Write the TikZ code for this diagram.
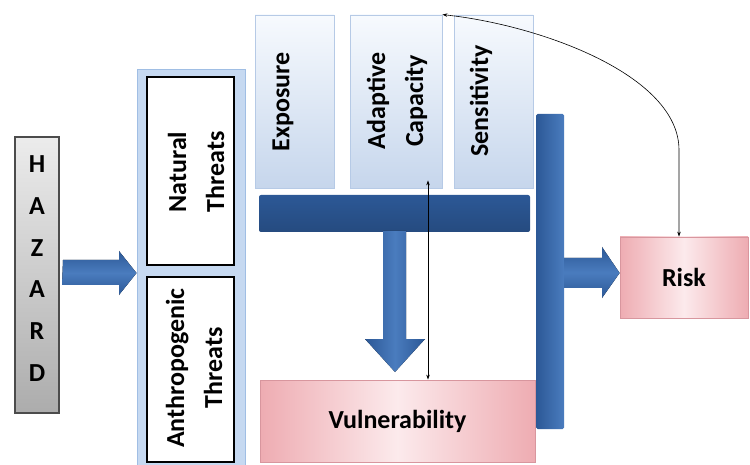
\documentclass[tikz,border=0pt]{standalone}
\usepackage{fontspec}
\setmainfont{Carlito}
\usetikzlibrary{arrows.meta}
\definecolor{bdark}{RGB}{44,88,150}
\definecolor{bmid}{RGB}{74,124,190}
\definecolor{panelfill}{RGB}{198,217,241}
\definecolor{paneldraw}{RGB}{160,190,228}
\definecolor{boxtop}{RGB}{247,250,254}
\definecolor{boxbot}{RGB}{198,214,236}
\definecolor{boxdraw}{RGB}{182,202,230}
\definecolor{pinkedge}{RGB}{238,172,178}
\definecolor{pinklight}{RGB}{252,234,236}
\definecolor{pinkdraw}{RGB}{216,150,158}
\begin{document}
\begin{tikzpicture}[x=1pt,y=-1pt,
  txt/.style={font=\fontsize{26}{38}\selectfont\bfseries, text=black, inner sep=0pt},
  rtxt/.style={txt, rotate=90, align=center},
  bluebox/.style={draw=boxdraw, line width=0.8pt, top color=boxtop, bottom color=boxbot, inner sep=0pt},
  threatbox/.style={draw=black, line width=1.8pt, fill=white, inner sep=0pt},
  pinkbox/.style={draw=pinkdraw, line width=0.8pt, left color=pinkedge, right color=pinkedge, middle color=pinklight, inner sep=0pt, txt},
  bar/.style={left color=bdark, right color=bmid, inner sep=0pt, rounded corners=1.5pt},
  hbarstyle/.style={top color=bdark, bottom color=bdark!85!black, inner sep=0pt, rounded corners=2pt},
  bigarrowh/.style={top color=bdark, bottom color=bdark, middle color=bmid},
  bigarrowv/.style={left color=bdark, right color=bdark, middle color=bmid},
  thinarr/.style={line width=0.6pt, {Stealth[length=5pt,width=3.5pt]}-{Stealth[length=5pt,width=3.5pt]}}
]
\useasboundingbox (0,0) rectangle (750,465);
\fill[white] (0,0) rectangle (750,465);

% HAZARD column
\node[draw=gray!60!black, line width=2pt, top color=gray!15, bottom color=gray!65, minimum width=44pt, minimum height=276pt, inner sep=0pt] (hazard) at (37,275) {};
\foreach \l [count=\i from 0] in {H,A,Z,A,R,D}
  \node[txt] (h\i) at (37,{164+41.8*\i}) {\l};

% threats panel
\node[draw=paneldraw, line width=1pt, fill=panelfill, minimum width=108pt, minimum height=395pt, inner sep=0pt] (panel) at (191,267.5) {};
\node[threatbox, minimum width=87pt, minimum height=188pt] (natural) at (190.5,171) {};
\node[threatbox, minimum width=87pt, minimum height=185pt] (anthro) at (190.5,369.5) {};
\node[rtxt] (naturalt) at (196,172) {Natural\\Threats};
\node[rtxt] (anthrot) at (194,368) {Anthropogenic\\Threats};

% arrow hazard -> panel
\fill[bigarrowh] (hazard.east |- 0,260) ++(3,0) -- (119,260) -- (119,251) -- (panel.west |- 0,273) -- (119,295) -- (119,285) -- (62,285) -- cycle;

% top boxes
\node[bluebox, minimum width=79pt, minimum height=173pt] (exposure) at (294.5,101.5) {};
\node[bluebox, minimum width=92pt, minimum height=173pt] (adapt) at (396,101.5) {};
\node[bluebox, minimum width=79pt, minimum height=173pt] (sens) at (493.5,101.5) {};
\node[rtxt] (exposuret) at (283,102) {Exposure};
\node[rtxt] (adaptt) at (397,101) {Adaptive\\Capacity};
\node[rtxt] (senst) at (481,101) {Sensitivity};

% horizontal bar and down arrow
\node[hbarstyle, minimum width=271pt, minimum height=37pt] (hbar) at (394.5,213.5) {};
\fill[bigarrowv] (383,231) -- (406,231) -- (406,339) -- (425,339) -- (395,372) -- (365,339) -- (383,339) -- cycle;

% vulnerability
\node[pinkbox, minimum width=275pt, minimum height=82pt] (vuln) at (397.5,421) {Vulnerability};

% vertical bar
\node[bar, minimum width=28pt, minimum height=315pt] (vbar) at (550,271.5) {};

% risk
\node[pinkbox, minimum width=128pt, minimum height=81pt] (risk) at (684,277.5) {Risk};

% arrow vbar -> risk
\fill[bigarrowh] (vbar.east |- 0,258) -- (602,258) -- (602,247) -- (risk.west |- 0,273) -- (602,298) -- (602,288) -- (vbar.east |- 0,288) -- cycle;

% thin double arrows
\draw[thinarr] (adapt.north east) .. controls (540,25) and (679,75) .. (679,150) -- ([xshift=-5pt]risk.north);
\draw[thinarr] ([xshift=32pt,yshift=8pt]adapt.south) -- ([xshift=32pt]adapt.south |- vuln.north);
\end{tikzpicture}
\end{document}
